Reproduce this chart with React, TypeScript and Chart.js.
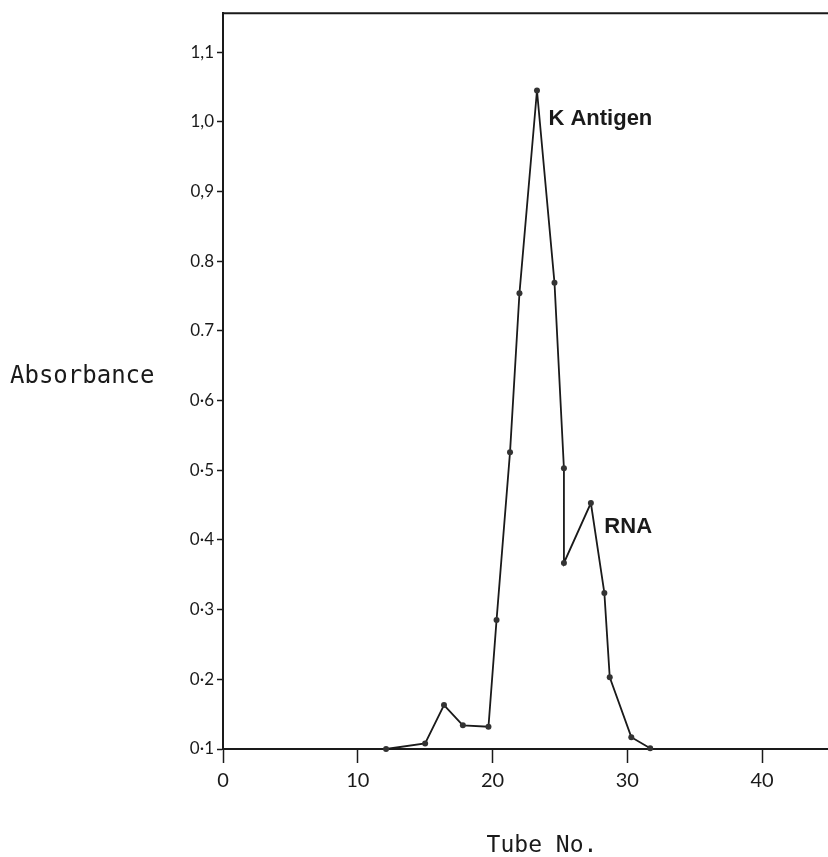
import React, { useEffect, useRef } from "react";
import { Chart, registerables } from "chart.js";

Chart.register(...registerables);

const tubeNo = [12.1, 15.0, 16.4, 17.8, 19.7, 20.3, 21.3, 22.0, 23.3, 24.6, 25.3, 25.3, 27.3, 28.3, 28.7, 30.3, 31.7];
const absorbance = [0.1, 0.108, 0.163, 0.134, 0.132, 0.285, 0.526, 0.754, 1.045, 0.769, 0.503, 0.367, 0.453, 0.324, 0.203, 0.117, 0.101];

const xTicks = [0, 10, 20, 30, 40];
const yTicks = [0.1, 0.2, 0.3, 0.4, 0.5, 0.6, 0.7, 0.8, 0.9, 1.0, 1.1];
const yTickLabels = ["0·1", "0·2", "0·3", "0·4", "0·5", "0·6", "0.7", "0.8", "0,9", "1,0", "1,1"];

const annotations = [
  { text: "K Antigen", x: 24.15, y: 0.995 },
  { text: "RNA", x: 28.3, y: 0.41 },
];

const yTitle = "Absorbance";
const xTitle = "Tube No.";

const INK = "#1a1a1a";

const decorPlugin = {
  id: "decor",
  afterDraw(chart: any) {
    const ctx = chart.ctx;
    const area = chart.chartArea;
    const xs = chart.scales.x;
    const ys = chart.scales.y;
    ctx.save();
    ctx.strokeStyle = INK;
    ctx.lineWidth = 2;
    // top frame line
    ctx.beginPath();
    ctx.moveTo(area.left - 1, area.top);
    ctx.lineTo(chart.width, area.top);
    ctx.stroke();
    // extend bottom axis to the canvas edge
    ctx.beginPath();
    ctx.moveTo(area.right - 2, area.bottom);
    ctx.lineTo(chart.width, area.bottom);
    ctx.stroke();
    // annotations
    ctx.fillStyle = INK;
    ctx.font = "bold 22px 'Liberation Sans', Arial, sans-serif";
    ctx.textBaseline = "alphabetic";
    ctx.textAlign = "left";
    for (const a of annotations) {
      ctx.fillText(a.text, xs.getPixelForValue(a.x), ys.getPixelForValue(a.y));
    }
    // axis titles
    ctx.font = "24px 'DejaVu Sans Mono', monospace";
    ctx.textAlign = "left";
    ctx.textBaseline = "middle";
    ctx.fillText(yTitle, 10, 377);
    ctx.font = "23px 'DejaVu Sans Mono', monospace";
    ctx.textAlign = "center";
    ctx.textBaseline = "alphabetic";
    ctx.fillText(xTitle, 542, 852);
    ctx.restore();
  },
};

export default function App() {
  const ref = useRef<HTMLCanvasElement | null>(null);

  useEffect(() => {
    document.body.style.margin = "0";
    const canvas = ref.current!;
    const chart = new Chart(canvas, {
      type: "line",
      data: {
        datasets: [
          {
            data: tubeNo.map((x, i) => ({ x, y: absorbance[i] })),
            borderColor: INK,
            backgroundColor: INK,
            borderWidth: 1.8,
            pointRadius: 3,
            pointBackgroundColor: "#333",
            pointBorderWidth: 0,
            tension: 0,
            clip: false as any,
          },
        ],
      },
      options: {
        animation: false,
        responsive: false,
        maintainAspectRatio: false,
        layout: { padding: { top: 13, right: 0, left: 0, bottom: 0 } },
        plugins: { legend: { display: false }, tooltip: { enabled: false } },
        scales: {
          x: {
            type: "linear",
            min: 0,
            max: 44.6,
            afterBuildTicks: (s: any) => {
              s.ticks = xTicks.map((v) => ({ value: v }));
            },
            afterFit: (s: any) => {
              s.height = 108;
            },
            grid: {
              drawOnChartArea: false,
              drawTicks: true,
              tickLength: 14,
              tickWidth: 1.5,
              tickColor: INK,
            },
            border: { display: true, color: INK, width: 2 },
            ticks: {
              color: INK,
              padding: 6,
              maxRotation: 0,
              font: { family: "'Lato', 'DejaVu Sans', sans-serif", size: 20 },
              callback: (v: any) => String(v),
            },
          },
          y: {
            type: "linear",
            min: 0.1,
            max: 1.156,
            afterBuildTicks: (s: any) => {
              s.ticks = yTicks.map((v) => ({ value: v }));
            },
            afterFit: (s: any) => {
              s.width = 223;
            },
            grid: {
              drawOnChartArea: false,
              drawTicks: true,
              tickLength: 6,
              tickWidth: 1.5,
              tickColor: INK,
            },
            border: { display: true, color: INK, width: 2 },
            ticks: {
              color: INK,
              padding: 3,
              font: { family: "'Lato', 'DejaVu Sans', sans-serif", size: 17 },
              callback: (v: any) => {
                const i = yTicks.findIndex((t) => Math.abs(t - Number(v)) < 1e-6);
                return i >= 0 ? yTickLabels[i] : "";
              },
            },
          },
        },
      },
      plugins: [decorPlugin],
    });
    return () => chart.destroy();
  }, []);

  return (
    <div style={{ width: 828, height: 857, background: "#fff" }}>
      <canvas ref={ref} width={828} height={857} style={{ display: "block" }} />
    </div>
  );
}
